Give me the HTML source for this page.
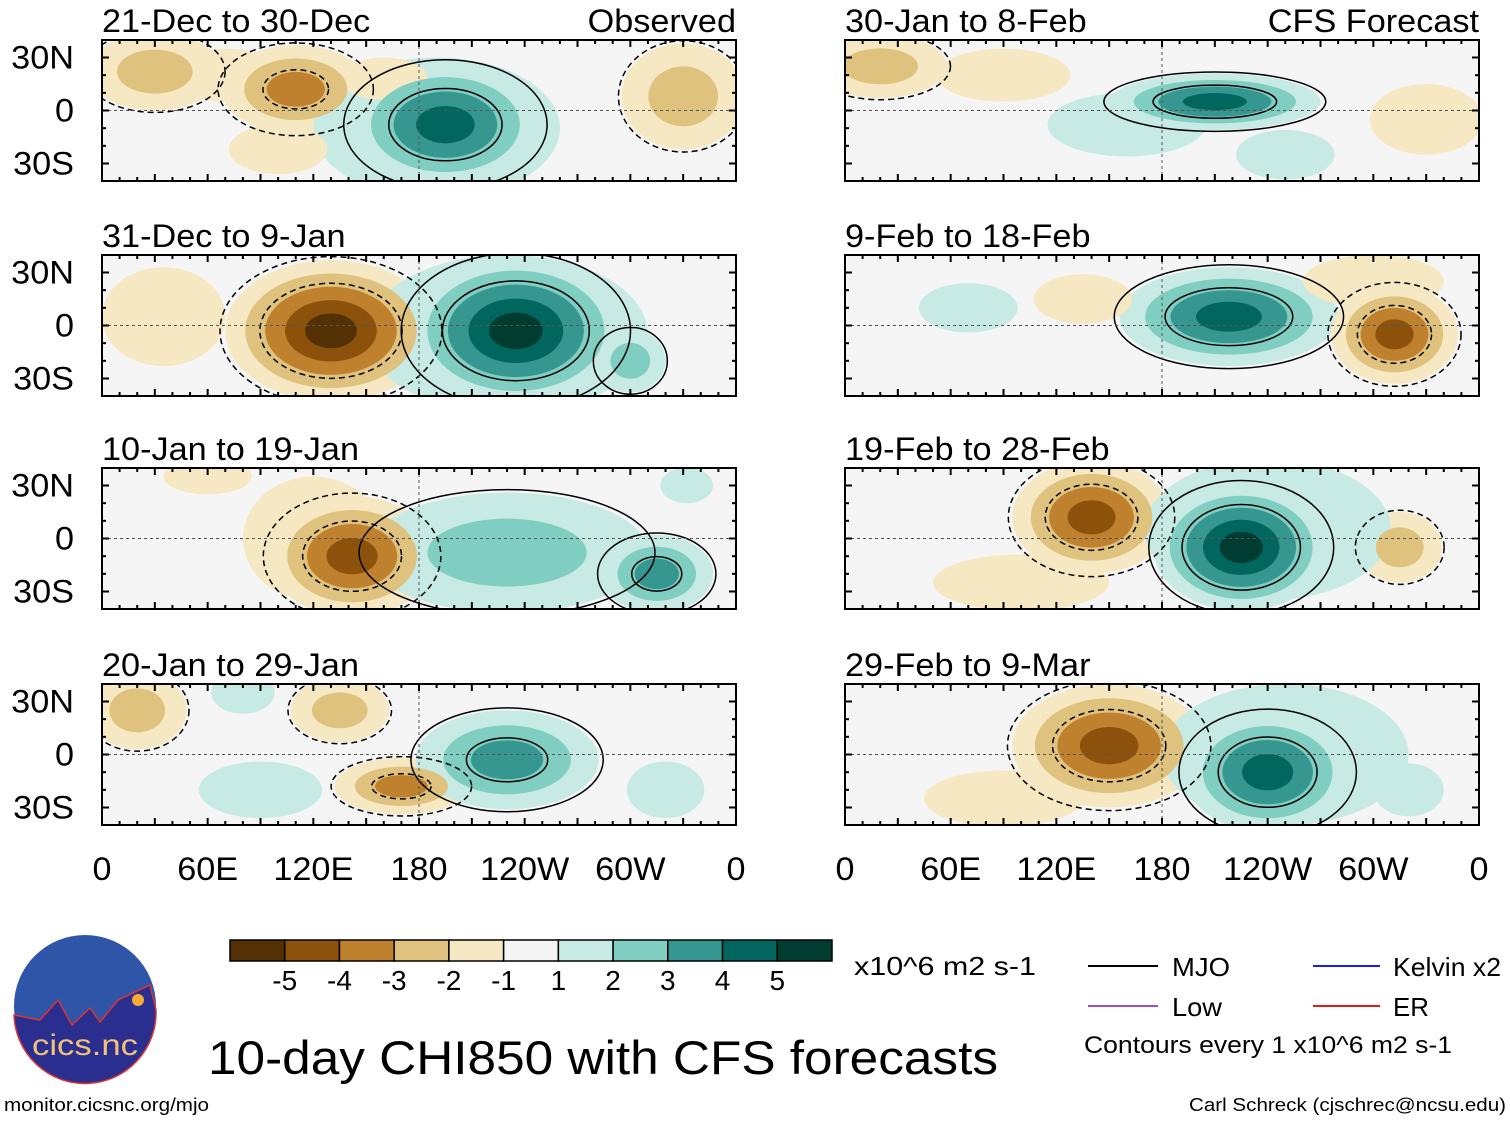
<!DOCTYPE html>
<html><head><meta charset="utf-8">
<style>
html,body{margin:0;padding:0;background:#fff;}
body{width:1510px;height:1121px;overflow:hidden;font-family:"Liberation Sans",Arial,sans-serif;}
svg text{font-family:"Liberation Sans",Arial,sans-serif;}
</style></head>
<body>
<svg id="fig" width="1510" height="1121" viewBox="0 0 1510 1121" xmlns="http://www.w3.org/2000/svg">
<g id="panels"></g>
<g id="axes"></g>
<g id="cbar"></g>
<g>
  <circle cx="85" cy="1006" r="71" fill="#2f55a8"/>
  <path d="M14 1015 L40 1020 L58 1000 L72 1025 L90 1008 L100 1022 L118 1000 L150 985 L156 1010 A71 71 0 0 1 14 1015 Z" fill="#2a2f8f" stroke="#d33" stroke-width="1.5"/>
  <circle cx="138" cy="1000" r="6" fill="#f7a935"/>
  <text x="85" y="1055" font-size="30" fill="#f1c27a" text-anchor="middle" textLength="106" lengthAdjust="spacingAndGlyphs">cics.nc</text>
</g>
<text x="4" y="1111" font-size="18" textLength="205" lengthAdjust="spacingAndGlyphs">monitor.cicsnc.org/mjo</text>
<text x="1506" y="1111" font-size="18" text-anchor="end" textLength="317" lengthAdjust="spacingAndGlyphs">Carl Schreck (cjschrec@ncsu.edu)</text>
<text x="208" y="1074" font-size="47" textLength="790" lengthAdjust="spacingAndGlyphs">10-day CHI850 with CFS forecasts</text>
<text x="854" y="975" font-size="26" textLength="182" lengthAdjust="spacingAndGlyphs">x10^6 m2 s-1</text>
<g>
  <line x1="1088" y1="966" x2="1158" y2="966" stroke="#000" stroke-width="2"/>
  <text x="1172" y="976" font-size="26" textLength="58" lengthAdjust="spacingAndGlyphs">MJO</text>
  <line x1="1088" y1="1006" x2="1158" y2="1006" stroke="#9b4fd6" stroke-width="2"/>
  <text x="1172" y="1016" font-size="26" textLength="50" lengthAdjust="spacingAndGlyphs">Low</text>
  <line x1="1313" y1="966" x2="1380" y2="966" stroke="#1a1aff" stroke-width="2"/>
  <text x="1393" y="976" font-size="26" textLength="108" lengthAdjust="spacingAndGlyphs">Kelvin x2</text>
  <line x1="1313" y1="1006" x2="1380" y2="1006" stroke="#e31a1a" stroke-width="2"/>
  <text x="1393" y="1016" font-size="26" textLength="36" lengthAdjust="spacingAndGlyphs">ER</text>
  <text x="1084" y="1053" font-size="24" textLength="368" lengthAdjust="spacingAndGlyphs">Contours every 1 x10^6 m2 s-1</text>
</g>
</svg>
<script>
// colour levels (BrBG)
const levelColors = ["#543005","#8c510a","#bf812d","#dfc27d","#f6e8c3","#f5f5f5","#c7eae5","#80cdc1","#35978f","#01665e","#003c30"];
const levelLabels = ["-5","-4","-3","-2","-1","1","2","3","4","5"];
const lonTickLabels = ["0","60E","120E","180","120W","60W","0"];
const lonTicks = [0,60,120,180,240,300,360];
const latTickLabels = ["30N","0","30S"];
const latTicks = [30,0,-30];
const panelTitles = ["21-Dec to 30-Dec","31-Dec to 9-Jan","10-Jan to 19-Jan","20-Jan to 29-Jan","30-Jan to 8-Feb","9-Feb to 18-Feb","19-Feb to 28-Feb","29-Feb to 9-Mar"];
// anomaly blobs per panel: [lon, lat, amplitude, lonRadius, latRadius]
const blobs0 = [[30,22,-2,38,22],[110,12,-3,42,25],[70,20,-1,30,15],[195,-8,4,55,35],[190,-10,1,70,40],[330,8,-2,35,30],[100,-22,-1,28,14],[160,18,-1,25,12]];
const blobs1 = [[130,-3,-5,60,40],[35,5,-1,35,28],[235,-3,5,62,42],[230,-5,1,80,45],[300,-20,2,20,18]];
const blobs2 = [[142,-10,-4,48,34],[230,-8,2,80,34],[315,-20,3,32,22],[332,30,1,15,10],[60,35,-1,25,10],[120,0,-1,40,35]];
const blobs3 = [[20,25,-2,28,22],[135,25,-2,28,18],[170,-18,-3,38,16],[230,-3,3,52,28],[90,-20,1,35,16],[320,-20,1,22,16],[80,35,1,18,12]];
const blobs4 = [[20,25,-2,38,18],[90,20,-1,38,15],[210,5,4,60,16],[160,-8,1,45,18],[330,-5,-1,32,20],[250,-25,1,28,14]];
const blobs5 = [[218,5,4,62,28],[312,-5,-4,36,28],[135,15,-1,28,14],[70,10,1,28,14],[300,25,-1,40,15]];
const blobs6 = [[140,12,-4,45,32],[225,-5,5,50,36],[315,-5,-2,24,20],[100,-25,-1,50,16],[240,5,1,70,40]];
const blobs7 = [[150,5,-4,55,35],[240,-10,4,48,34],[90,-25,-1,45,16],[320,-20,1,20,15],[250,0,1,70,40]];
const panelBlobs = [blobs0,blobs1,blobs2,blobs3,blobs4,blobs5,blobs6,blobs7];

const NS="http://www.w3.org/2000/svg";
const W=634,H=141;
const colX=[102,845], rowY=[40,255,468,684];
function mk(tag,attrs,parent){const e=document.createElementNS(NS,tag);for(const k in attrs)e.setAttribute(k,attrs[k]);parent.appendChild(e);return e;}
function xScale(x0,lon){return x0+lon/360*W;}
function yScale(y0,lat){return y0+70.5-lat*53/30;}
function colorFor(a,k){return a>0?levelColors[5+k]:levelColors[5-k];}

const panels=document.getElementById('panels');
const axes=document.getElementById('axes');
panelBlobs.forEach((bl,i)=>{
  const col=i<4?0:1,row=i%4,x0=colX[col],y0=rowY[row];
  const g=mk('g',{},panels);
  
  
  const cp=mk('clipPath',{id:'cp'+i},g);
  mk('rect',{x:x0,y:y0,width:W,height:H},cp);
  const inner=mk('g',{'clip-path':'url(#cp'+i+')'},g);
  mk('rect',{x:x0,y:y0,width:W,height:H,fill:'#f5f5f5'},inner);
  for(let k=1;k<=5;k++){
    bl.forEach(b=>{
      const n=Math.abs(b[2]); if(k>n) return;
      const f=1-(k-1)/(n+0.3);
      const e=mk('ellipse',{cx:xScale(x0,b[0]),cy:yScale(y0,b[1]),rx:b[3]/360*W*f,ry:b[4]*53/30*f,fill:colorFor(b[2],k)},inner);
      
      
    });
  }
  bl.forEach(b=>{
    const n=Math.abs(b[2]); if(n<2) return;
    [1,3].forEach(k=>{ if(k>n) return;
      const f=1-(k-1)/(n+0.3)+0.05;
      const c=mk('ellipse',{cx:xScale(x0,b[0]),cy:yScale(y0,b[1]),rx:b[3]/360*W*f,ry:b[4]*53/30*f,fill:'none',stroke:'#000','stroke-width':1.5,'stroke-dasharray':b[2]<0?'6,4':'none'},inner);
      
      
    });
  });
  mk('line',{x1:x0,y1:yScale(y0,0),x2:x0+W,y2:yScale(y0,0),stroke:'#555','stroke-dasharray':'3,3','stroke-width':1},inner);
  mk('line',{x1:xScale(x0,180),y1:y0,x2:xScale(x0,180),y2:y0+H,stroke:'#555','stroke-dasharray':'3,3','stroke-width':1},inner);
  mk('rect',{x:x0,y:y0,width:W,height:H,fill:'none',stroke:'#000','stroke-width':2},g);
  for(let lon=0;lon<=360;lon+=10){const x=xScale(x0,lon),L=lon%30==0?7:4;
    mk('line',{x1:x,y1:y0,x2:x,y2:y0+L,stroke:'#000','stroke-width':2},g);
    mk('line',{x1:x,y1:y0+H,x2:x,y2:y0+H-L,stroke:'#000','stroke-width':2},g);}
  for(let lat=-30;lat<=30;lat+=10){const y=yScale(y0,lat),L=lat%30==0?7:4;
    mk('line',{x1:x0,y1:y,x2:x0+L,y2:y,stroke:'#000','stroke-width':2},g);
    mk('line',{x1:x0+W,y1:y,x2:x0+W-L,y2:y,stroke:'#000','stroke-width':2},g);}
  const t=mk('text',{x:x0,y:y0-8,'font-size':32,class:'wide'},g);t.textContent=panelTitles[i];
  
  
  if(row===0){const s=mk('text',{x:x0+W,y:y0-8,'font-size':32,'text-anchor':'end',class:'wide'},g);s.textContent=col===0?'Observed':'CFS Forecast';
    
    }
  if(col===0){latTicks.forEach((lat,j)=>{const tt=mk('text',{x:74,y:yScale(y0,lat)+11,'font-size':32,'text-anchor':'end',class:'wide'},axes);tt.textContent=latTickLabels[j];
    
    });}
});
colX.forEach(x0=>{lonTicks.forEach((lon,j)=>{const tt=mk('text',{x:xScale(x0,lon),y:880,'font-size':32,'text-anchor':'middle',class:'wide'},axes);tt.textContent=lonTickLabels[j];
  
  });});
const cbar=document.getElementById('cbar');
const cx0=230,cw=602/11;
levelColors.forEach((c,j)=>{const r=mk('rect',{x:cx0+j*cw,y:940,width:cw,height:21,fill:c,stroke:'#000','stroke-width':1.5},cbar);
  
  });
levelLabels.forEach((l,j)=>{const tt=mk('text',{x:cx0+(j+1)*cw,y:990,'font-size':28,'text-anchor':'middle'},cbar);tt.textContent=l;
  
  });
document.querySelectorAll('text.wide').forEach(t=>{const L=t.getComputedTextLength();t.setAttribute('textLength',(L*1.07).toFixed(1));t.setAttribute('lengthAdjust','spacingAndGlyphs');});
</script>
</body></html>
